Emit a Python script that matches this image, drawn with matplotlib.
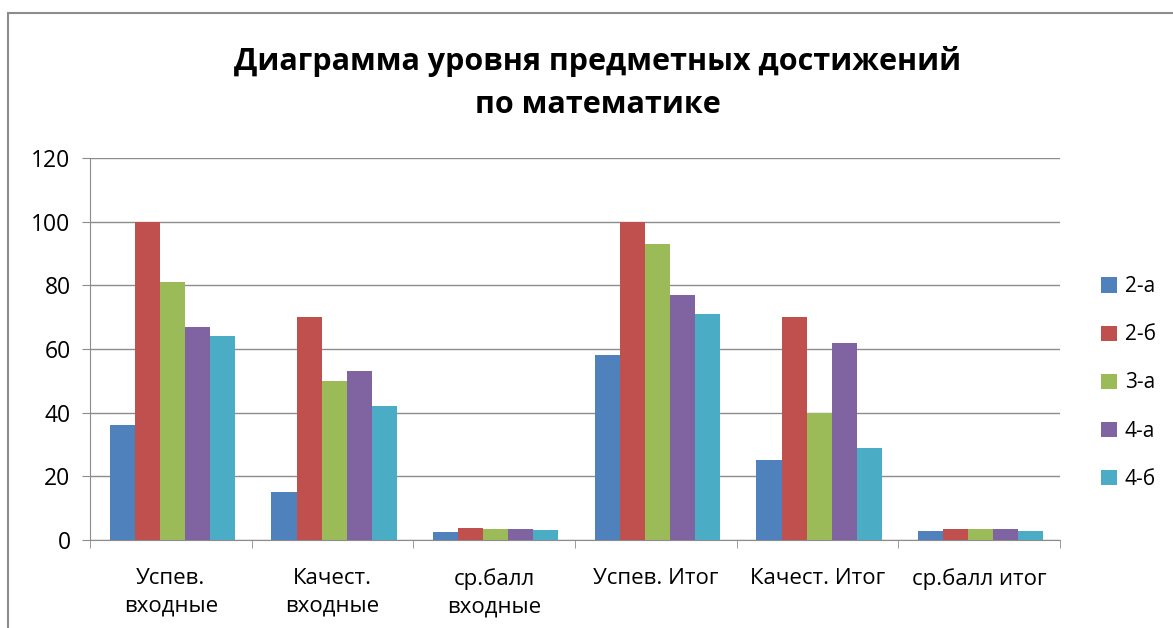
import numpy as np
import matplotlib.pyplot as plt
from matplotlib.patches import Rectangle

plt.rcParams['font.family'] = ['Open Sans', 'DejaVu Sans']

categories = ["Успев.\nвходные", "Качест.\nвходные", "ср.балл\nвходные",
              "Успев. Итог", "Качест. Итог", "ср.балл итог"]
series = ["2-а", "2-б", "3-а", "4-а", "4-б"]
values = {
    "2-а": [36, 15, 2.4, 58, 25, 2.8],
    "2-б": [100, 70, 3.8, 100, 70, 3.5],
    "3-а": [81, 50, 3.5, 93, 40, 3.3],
    "4-а": [67, 53, 3.4, 77, 62, 3.5],
    "4-б": [64, 42, 3.0, 71, 29, 2.9],
}
colors = ["#4F81BD", "#C0504D", "#9BBB59", "#8064A2", "#4BACC6"]

fig = plt.figure(figsize=(11.73, 6.28), dpi=100)
ax = fig.add_axes([90 / 1173, 1 - 540 / 628, 970 / 1173, 382 / 628])

# chart border
fig.patches.append(Rectangle((8 / 1173, -0.1), 1.2, (628 - 13) / 628 + 0.1,
                             transform=fig.transFigure, fill=False,
                             edgecolor="#8c8c8c", linewidth=1.5))

x = np.arange(len(categories))
w = 0.155
for i, s in enumerate(series):
    ax.bar(x + (i - 2) * w + 0.01, values[s], w, color=colors[i], label=s, zorder=3)

ax.set_xlim(-0.5, len(categories) - 0.5)
ax.set_ylim(0, 120)
ax.set_yticks(range(0, 121, 20))
ax.yaxis.grid(True, color="#8c8c8c", linewidth=1, zorder=0)
ax.set_xticks(x)
ax.set_xticklabels(categories, fontsize=16, linespacing=1.4)
ax.set_xticks(np.arange(-0.5, len(categories), 1), minor=True)
ax.tick_params(axis="x", which="major", length=0, pad=20)
ax.tick_params(axis="x", which="minor", length=6, color="#8c8c8c")
ax.tick_params(axis="y", labelsize=16.5, length=6, color="#8c8c8c", pad=8)
for side in ["top", "right"]:
    ax.spines[side].set_visible(False)
for side in ["left", "bottom"]:
    ax.spines[side].set_color("#8c8c8c")

fig.text(598 / 1173, 1 - 83 / 628, "Диаграмма уровня предметных достижений\nпо математике",
         ha="center", va="center", fontsize=22, fontweight="bold", linespacing=1.6)

fig.legend(loc="center left", bbox_to_anchor=(1101 / 1173, 1 - 383 / 628),
           frameon=False, fontsize=15, handlelength=0.75, handleheight=0.75,
           labelspacing=1.3, handletextpad=0.4, borderaxespad=0, borderpad=0)

fig.savefig("out.png", dpi=100)
